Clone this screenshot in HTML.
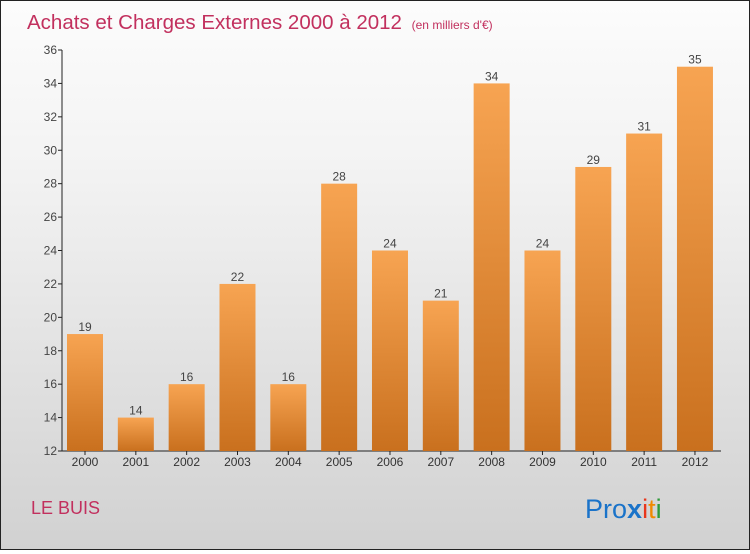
<!DOCTYPE html>
<html><head><meta charset="utf-8"><style>
html,body{margin:0;padding:0}
body{width:750px;height:550px;overflow:hidden}
#wrap{position:relative;width:748px;height:548px;border:1px solid #222;background:linear-gradient(#fcfcfc,#f3f3f3 30%,#d1d1d1);font-family:"Liberation Sans",sans-serif}
</style></head><body>
<div id="wrap">
<svg width="748" height="548" id="svg">
<defs><linearGradient id="bg" x1="0" y1="0" x2="0" y2="1"><stop offset="0" stop-color="#f7a452"/><stop offset="1" stop-color="#c9701e"/></linearGradient></defs>
<text x="26" y="28" font-size="20.5" fill="#c2305e">Achats et Charges Externes 2000 à 2012 <tspan font-size="12" dx="4">(en milliers d'€)</tspan></text>
<text x="30" y="513" font-size="18" fill="#c2305e">LE BUIS</text>
<g font-size="27">
<text x="584" y="517"><tspan fill="#1a73c9">Pro</tspan><tspan fill="#1a73c9" font-weight="bold">x</tspan><tspan fill="#e8361c">i</tspan><tspan fill="#f08a00">t</tspan><tspan fill="#2e9a3a">i</tspan></text>
</g>
<g id="g"></g>
</svg>
</div>
<script>
const categories=["2000","2001","2002","2003","2004","2005","2006","2007","2008","2009","2010","2011","2012"];
const values=[19,14,16,22,16,28,24,21,34,24,29,31,35];
const yTicks=[12,14,16,18,20,22,24,26,28,30,32,34,36];
const ns="http://www.w3.org/2000/svg";
const g=document.getElementById('g');
const x0=61,y0=450,yMin=12,yMax=36,yTop=49;
const y=v=>y0-(v-yMin)*(y0-yTop)/(yMax-yMin);
const step=50.83,bw=36;
const xc=i=>84+i*step;
function el(t,a,txt){const e=document.createElementNS(ns,t);for(const k in a)e.setAttribute(k,a[k]);if(txt!=null)e.textContent=txt;g.appendChild(e);return e;}
let ax=el('line',{x1:x0,y1:yTop,x2:x0,y2:y0,stroke:'#222'});


let bx=el('line',{x1:x0,y1:y0,x2:720,y2:y0,stroke:'#222'});


yTicks.forEach(v=>{
 el('line',{x1:x0-4,y1:y(v),x2:x0,y2:y(v),stroke:'#222'});
 let t=el('text',{x:x0-5,y:y(v)+4,'font-size':12,'text-anchor':'end',fill:'#444'},v);
 
 
});
values.forEach((v,i)=>{
 let r=el('rect',{x:xc(i)-bw/2,y:y(v),width:bw,height:y0-y(v),fill:'url(#bg)'});
 
 
 let t=el('text',{x:xc(i),y:y(v)-3,'font-size':12,'text-anchor':'middle',fill:'#444'},v);
 
 
 el('line',{x1:xc(i),y1:y0,x2:xc(i),y2:y0+4,stroke:'#222'});
 let c=el('text',{x:xc(i),y:y0+15,'font-size':12,'text-anchor':'middle',fill:'#333'},categories[i]);
 
 
});
</script>
</body></html>
